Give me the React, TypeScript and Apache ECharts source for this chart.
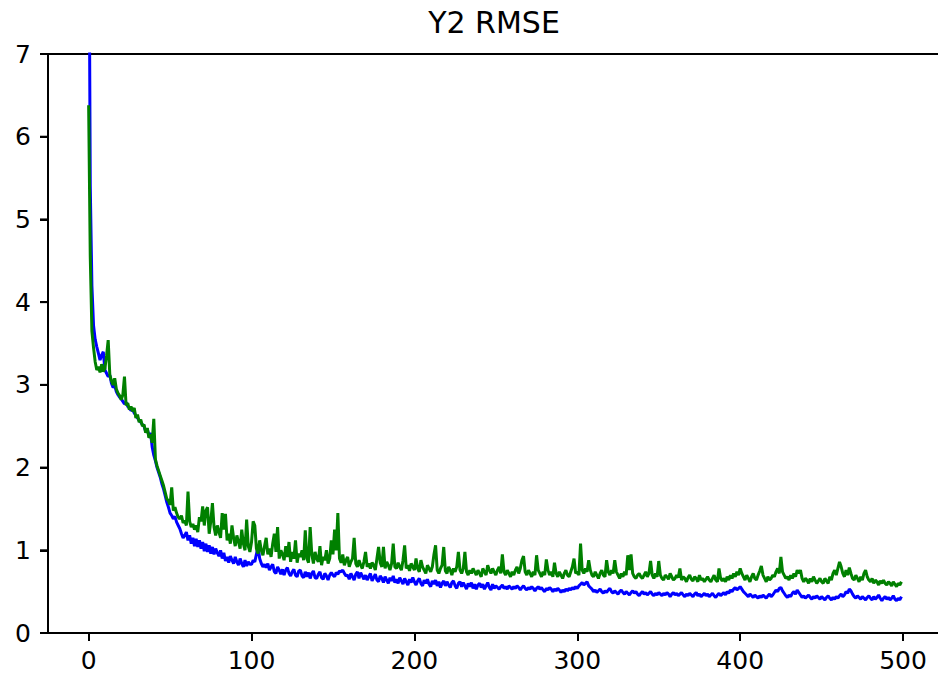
import React, { useEffect, useRef } from "react";
import * as echarts from "echarts";

const TITLE = "Y2 RMSE";
const X_MIN = -24.95;
const X_MAX = 521.45;
const X_TICKS = [0, 100, 200, 300, 400, 500];
const Y_MIN = 0;
const Y_MAX = 7;
const Y_STEP = 1;
const Y_TICKS = [0, 1, 2, 3, 4, 5, 6, 7];

const BLUE = [
  9.6, 5.4, 4.2, 3.72, 3.55, 3.46, 3.38, 3.3, 3.36, 3.4,
  3.18, 3.14, 3.1, 3.12, 3.02, 2.97, 2.99, 2.92, 2.88, 2.85,
  2.83, 2.8, 2.77, 2.79, 2.74, 2.72, 2.69, 2.7, 2.66, 2.63,
  2.6, 2.57, 2.55, 2.52, 2.5, 2.44, 2.47, 2.38, 2.42, 2.25,
  2.15, 2.08, 2.0, 1.94, 1.88, 1.8, 1.74, 1.66, 1.58, 1.52,
  1.45, 1.42, 1.38, 1.41, 1.34, 1.3, 1.26, 1.2, 1.15, 1.18,
  1.22, 1.12, 1.18, 1.08, 1.15, 1.05, 1.14, 1.04, 1.12, 1.02,
  1.1, 0.99, 1.08, 0.98, 1.06, 0.96, 1.04, 0.95, 1.02, 0.97,
  0.93, 1.0, 0.9, 0.97, 0.87, 0.92, 0.85, 0.93, 0.88, 0.84,
  0.92, 0.86, 0.82, 0.9, 0.84, 0.8, 0.88, 0.81, 0.86, 0.83,
  0.83, 0.88, 0.86, 0.95, 1.05, 0.9, 0.84, 0.8, 0.83, 0.79,
  0.84, 0.76, 0.8, 0.83, 0.74, 0.72, 0.8, 0.76, 0.71, 0.77,
  0.7, 0.76, 0.79, 0.72, 0.69, 0.74, 0.77, 0.7, 0.68, 0.75,
  0.76, 0.69, 0.67, 0.74, 0.68, 0.73, 0.66, 0.72, 0.75, 0.67,
  0.66, 0.71, 0.74, 0.67, 0.65, 0.72, 0.69, 0.64, 0.7, 0.73,
  0.7, 0.68, 0.73, 0.71, 0.75, 0.74, 0.76, 0.72, 0.69, 0.7,
  0.65, 0.72, 0.68, 0.64, 0.71, 0.74, 0.66, 0.73, 0.69, 0.65,
  0.7, 0.64, 0.68, 0.72, 0.63, 0.67, 0.71, 0.64, 0.62, 0.69,
  0.66, 0.61, 0.68, 0.64, 0.6, 0.67, 0.63, 0.69, 0.61, 0.65,
  0.6, 0.67, 0.63, 0.59, 0.66, 0.62, 0.58, 0.65, 0.61, 0.67,
  0.62, 0.58, 0.63, 0.66, 0.6, 0.57, 0.64, 0.6, 0.65, 0.59,
  0.56, 0.63, 0.59, 0.64, 0.57, 0.62, 0.55, 0.6, 0.63, 0.57,
  0.62, 0.58, 0.55, 0.61, 0.63, 0.57, 0.54, 0.6, 0.62, 0.56,
  0.61, 0.57, 0.53, 0.6, 0.56, 0.61, 0.54, 0.59, 0.53, 0.58,
  0.6, 0.55, 0.59, 0.53, 0.57, 0.61, 0.55, 0.52, 0.59, 0.54,
  0.57, 0.55, 0.53, 0.56, 0.58, 0.54, 0.56, 0.53, 0.57, 0.55,
  0.53, 0.56, 0.54, 0.57, 0.55, 0.52, 0.55, 0.57, 0.54, 0.52,
  0.55, 0.53, 0.56, 0.54, 0.51, 0.54, 0.56, 0.53, 0.55, 0.52,
  0.5, 0.54, 0.52, 0.55, 0.53, 0.5, 0.53, 0.51, 0.54, 0.52,
  0.49, 0.52, 0.5, 0.53, 0.51, 0.54, 0.52, 0.55, 0.53, 0.56,
  0.54, 0.57, 0.59, 0.61, 0.58, 0.6, 0.62, 0.57, 0.55, 0.53,
  0.5, 0.52, 0.49, 0.51, 0.53, 0.5, 0.48, 0.51, 0.49, 0.52,
  0.54, 0.5, 0.48, 0.51, 0.49, 0.47, 0.5, 0.52, 0.49, 0.47,
  0.5, 0.48, 0.46, 0.49, 0.51, 0.48, 0.5, 0.47, 0.45, 0.48,
  0.5, 0.47, 0.49, 0.46, 0.48, 0.5, 0.47, 0.45, 0.48, 0.46,
  0.49, 0.47, 0.45, 0.48, 0.46, 0.49, 0.47, 0.44, 0.47, 0.49,
  0.46, 0.48, 0.45, 0.47, 0.49, 0.46, 0.44, 0.47, 0.45, 0.48,
  0.46, 0.44, 0.47, 0.49, 0.45, 0.47, 0.44, 0.46, 0.48, 0.45,
  0.47, 0.44, 0.46, 0.48, 0.45, 0.43, 0.46, 0.48, 0.45, 0.47,
  0.49, 0.46, 0.5, 0.48, 0.52, 0.5, 0.53, 0.55, 0.52, 0.54,
  0.56, 0.53, 0.5, 0.48, 0.46, 0.44, 0.47, 0.45, 0.43, 0.46,
  0.44, 0.42, 0.45, 0.43, 0.46, 0.44, 0.42, 0.45, 0.47, 0.44,
  0.46, 0.49, 0.52, 0.5, 0.54, 0.55, 0.51, 0.48, 0.45, 0.43,
  0.46, 0.44, 0.48, 0.5, 0.47, 0.52, 0.49, 0.46, 0.43, 0.45,
  0.42, 0.44, 0.46, 0.43, 0.41, 0.44, 0.42, 0.45, 0.43, 0.41,
  0.44, 0.42, 0.4, 0.43, 0.45, 0.42, 0.4, 0.43, 0.41, 0.44,
  0.42, 0.45, 0.47, 0.44, 0.46, 0.5, 0.48, 0.53, 0.51, 0.47,
  0.44, 0.42, 0.45, 0.43, 0.41, 0.44, 0.42, 0.4, 0.43, 0.45,
  0.42, 0.4, 0.44, 0.41, 0.43, 0.46, 0.42, 0.39, 0.42, 0.44,
  0.41, 0.43, 0.4, 0.42, 0.45, 0.41, 0.39, 0.42, 0.4, 0.44,
];

const GREEN = [
  6.38, 4.55, 3.65, 3.45, 3.28, 3.18, 3.22, 3.15, 3.25, 3.16,
  3.2, 3.35, 3.54, 3.12, 3.05, 3.0, 3.08, 2.95, 2.9, 2.87,
  2.82, 2.88, 3.1, 2.75, 2.78, 2.7, 2.74, 2.68, 2.72, 2.6,
  2.64, 2.55, 2.58, 2.5, 2.52, 2.42, 2.48, 2.36, 2.4, 2.3,
  2.59, 2.1, 2.02, 1.96, 1.9, 1.84, 1.78, 1.7, 1.62, 1.6,
  1.55, 1.76, 1.48, 1.52, 1.45, 1.4, 1.38, 1.42, 1.33, 1.36,
  1.3, 1.71, 1.35, 1.28, 1.32, 1.25, 1.3, 1.22, 1.4, 1.35,
  1.53, 1.3, 1.48, 1.52, 1.2, 1.35, 1.57, 1.28, 1.18, 1.3,
  1.22, 1.15, 1.45, 1.25, 1.44, 1.12, 1.2, 1.08, 1.3, 1.15,
  1.05, 1.18, 1.1, 1.02, 1.25, 1.08, 1.0, 1.37, 1.05, 0.98,
  1.1, 1.35, 1.3, 1.02, 0.96, 1.12, 1.0, 0.94, 1.05, 1.15,
  0.95, 1.02, 0.92, 1.08, 1.2, 0.98, 1.28, 0.9, 1.0, 0.95,
  0.88, 1.05, 0.92, 1.1, 0.86, 0.98, 0.9, 1.12, 0.85, 0.96,
  0.92, 1.0, 0.88, 1.24, 0.9, 0.85, 1.28, 0.95, 0.84, 0.98,
  0.9, 0.86, 1.05, 0.82, 0.92, 0.88, 1.0, 0.84, 0.9, 1.12,
  0.95, 1.25, 1.0, 1.45, 0.9, 0.85, 0.95, 0.82, 0.88, 0.92,
  0.8, 0.86, 0.9, 1.15, 0.84, 0.8, 0.88, 0.82, 0.78, 0.86,
  0.98, 0.8, 0.84, 0.78, 0.85, 0.82, 0.76, 0.9, 1.04, 0.85,
  0.8, 1.04, 0.78, 0.86, 0.82, 0.76, 0.84, 1.08, 0.8, 0.78,
  0.85, 0.8, 0.76, 0.88, 1.06, 0.78, 0.82, 0.75, 0.84, 0.8,
  0.76, 0.9, 0.78, 0.74, 0.88, 0.8, 0.76, 0.72, 0.82, 0.78,
  0.74, 0.8, 0.95, 1.06, 0.76, 0.72, 0.78, 0.82, 1.04, 0.75,
  0.72, 0.8, 0.76, 0.7, 0.78, 0.74, 0.8, 0.98, 0.76, 0.72,
  0.78, 0.98, 0.74, 0.7, 0.76, 0.72, 0.78, 0.74, 0.7, 0.76,
  0.72, 0.68, 0.78, 0.74, 0.7, 0.82, 0.76, 0.72, 0.78, 0.74,
  0.7, 0.76, 0.8, 0.72, 0.95, 0.74, 0.7, 0.76, 0.72, 0.68,
  0.74, 0.7, 0.76, 0.8, 0.72, 0.78, 0.88, 0.93, 0.74, 0.7,
  0.76, 0.72, 0.68, 0.74, 0.7, 0.94, 0.76, 0.72, 0.68, 0.74,
  0.7, 0.89, 0.76, 0.7, 0.74, 0.68, 0.85, 0.72, 0.68, 0.74,
  0.7, 0.66, 0.72, 0.76, 0.7, 0.68, 0.74, 0.8, 0.9, 0.72,
  0.74, 0.7, 1.08, 0.76, 0.72, 0.78, 0.74, 0.88, 0.76, 0.7,
  0.68, 0.74, 0.7, 0.66, 0.72, 0.76, 0.7, 0.68, 0.88, 0.74,
  0.7, 0.76, 0.72, 0.88, 0.74, 0.7, 0.66, 0.72, 0.68, 0.74,
  0.7, 0.94, 0.76, 0.95, 0.72, 0.68, 0.66, 0.7, 0.72, 0.68,
  0.66, 0.7, 0.74, 0.68, 0.72, 0.87, 0.7, 0.66, 0.72, 0.68,
  0.87, 0.7, 0.66, 0.64, 0.7, 0.68, 0.65, 0.72, 0.68, 0.64,
  0.66, 0.7, 0.67, 0.78, 0.64, 0.68, 0.66, 0.62, 0.67, 0.7,
  0.65, 0.63, 0.68, 0.66, 0.62, 0.7, 0.64, 0.66, 0.62, 0.65,
  0.68, 0.64, 0.62, 0.66, 0.7, 0.64, 0.62, 0.78, 0.66, 0.63,
  0.66, 0.62, 0.68, 0.64, 0.7, 0.66, 0.72, 0.68, 0.74, 0.7,
  0.78, 0.72, 0.68, 0.64, 0.7, 0.66, 0.62, 0.68, 0.72, 0.66,
  0.64, 0.7, 0.75, 0.81, 0.7, 0.66, 0.62, 0.68, 0.64, 0.66,
  0.7, 0.68, 0.74, 0.78, 0.72, 0.92, 0.74, 0.7, 0.66, 0.68,
  0.64, 0.7, 0.66, 0.72, 0.68, 0.76, 0.72, 0.76, 0.66, 0.62,
  0.66, 0.64, 0.6, 0.66, 0.62, 0.68, 0.64, 0.6, 0.63, 0.66,
  0.62, 0.6, 0.66, 0.63, 0.6, 0.68, 0.64, 0.72, 0.76, 0.7,
  0.78, 0.86, 0.8, 0.72, 0.68, 0.76, 0.7, 0.79, 0.72, 0.66,
  0.64, 0.7, 0.66, 0.62, 0.68, 0.64, 0.72, 0.76, 0.68, 0.64,
  0.62, 0.66, 0.6, 0.64, 0.62, 0.58, 0.63, 0.6, 0.64, 0.6,
  0.58, 0.62, 0.6, 0.57, 0.62, 0.59, 0.56, 0.6, 0.58, 0.62,
];

const FONT = "DejaVu Sans";

export default function App() {
  const ref = useRef<HTMLDivElement>(null);
  useEffect(() => {
    if (!ref.current) return;
    const chart = echarts.init(ref.current, undefined, { renderer: "svg" });
    const toPairs = (arr: number[]) => arr.map((v, i) => [i, v]);
    const label = { show: true, color: "#000", fontFamily: FONT, fontSize: 25 };
    chart.setOption({
      animation: false,
      backgroundColor: "#ffffff",
      title: {
        text: TITLE,
        left: 489,
        top: 2,
        textAlign: "center",
        textStyle: { fontFamily: FONT, fontSize: 30, fontWeight: "normal", color: "#000" },
      },
      grid: {
        left: 48,
        top: 54,
        right: 0,
        height: 579,
        show: false,
      },
      xAxis: [
        {
          type: "value",
          min: X_MIN,
          max: X_MAX,
          position: "bottom",
          splitLine: { show: false },
          axisLine: { show: true, onZero: false, lineStyle: { color: "#000", width: 2 } },
          axisTick: {
            show: true,
            inside: false,
            length: 8,
            lineStyle: { color: "#000", width: 2 },
            customValues: X_TICKS,
          },
          axisLabel: { ...label, margin: 15, customValues: X_TICKS },
        },
        {
          type: "value",
          min: X_MIN,
          max: X_MAX,
          position: "top",
          splitLine: { show: false },
          axisLine: { show: true, onZero: false, lineStyle: { color: "#000", width: 2 } },
          axisTick: { show: false },
          axisLabel: { show: false },
        },
      ],
      yAxis: {
        type: "value",
        min: Y_MIN,
        max: Y_MAX,
        interval: Y_STEP,
        position: "left",
        splitLine: { show: false },
        axisLine: { show: true, onZero: false, lineStyle: { color: "#000", width: 2 } },
        axisTick: { show: true, inside: false, length: 8, lineStyle: { color: "#000", width: 2 } },
        axisLabel: { ...label, margin: 17 },
      },
      series: [
        {
          type: "line",
          data: toPairs(BLUE),
          showSymbol: false,
          symbol: "none",
          clip: true,
          lineStyle: { color: "#0000ff", width: 3 },
          itemStyle: { color: "#0000ff" },
        },
        {
          type: "line",
          data: toPairs(GREEN),
          showSymbol: false,
          symbol: "none",
          clip: true,
          lineStyle: { color: "#008000", width: 3 },
          itemStyle: { color: "#008000" },
        },
      ],
    });
    // y-axis tick marks, positioned through the chart's own axis scales
    const axisX = Number(chart.convertToPixel({ xAxisIndex: 0 }, X_MIN));
    const tickMarks: any[] = [];
    Y_TICKS.forEach((v) => {
      const py = Number(chart.convertToPixel({ yAxisIndex: 0 }, v));
      if (isFinite(axisX) && isFinite(py)) {
        tickMarks.push({
          type: "line",
          silent: true,
          z: 100,
          shape: { x1: axisX - 8, y1: py, x2: axisX, y2: py },
          style: { stroke: "#000", lineWidth: 2 },
        });
      }
    });
    if (tickMarks.length) chart.setOption({ graphic: tickMarks });
    return () => chart.dispose();
  }, []);
  return (
    <div
      ref={ref}
      style={{ position: "fixed", left: 0, top: 0, width: 938, height: 678, background: "#fff" }}
    />
  );
}
